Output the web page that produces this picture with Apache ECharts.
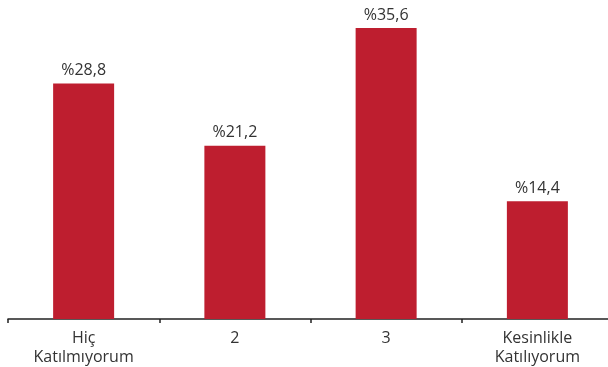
<!DOCTYPE html>
<html>
<head>
<meta charset="utf-8">
<script src="https://cdn.jsdelivr.net/npm/echarts@6/dist/echarts.min.js"></script>
<style>
  html, body { margin: 0; padding: 0; background: #fff; }
  #chart { width: 608px; height: 367px; }
</style>
</head>
<body>
<div id="chart"></div>
<script>
// Survey answer categories and their shares (%)
const categories = ['Hiç\nKatılmıyorum', '2', '3', 'Kesinlikle\nKatılıyorum'];
const shares = [28.8, 21.2, 35.6, 14.4];

const chart = echarts.init(document.getElementById('chart'));
chart.setOption({
  animation: false,
  grid: { left: 8, width: 605, top: 28, height: 291, containLabel: false, outerBoundsMode: 'none' },
  xAxis: {
    type: 'category',
    data: categories,
    axisLine: { show: true, lineStyle: { color: '#222', width: 1.5 } },
    axisTick: { show: true, length: 4, lineStyle: { color: '#222', width: 1.5 } },
    axisLabel: {
      color: '#333',
      fontFamily: 'Open Sans',
      fontSize: 16,
      lineHeight: 19,
      margin: 10
    }
  },
  yAxis: {
    type: 'value',
    min: 0,
    max: 35.6,
    show: false
  },
  series: [{
    type: 'bar',
    data: shares,
    barWidth: 61,
    itemStyle: { color: '#BE1E2F' },
    label: {
      show: true,
      position: 'top',
      distance: 5,
      color: '#333',
      fontFamily: 'Open Sans',
      fontSize: 16,
      formatter: p => '%' + p.value.toFixed(1).replace('.', ',')
    }
  }]
});
</script>
</body>
</html>
